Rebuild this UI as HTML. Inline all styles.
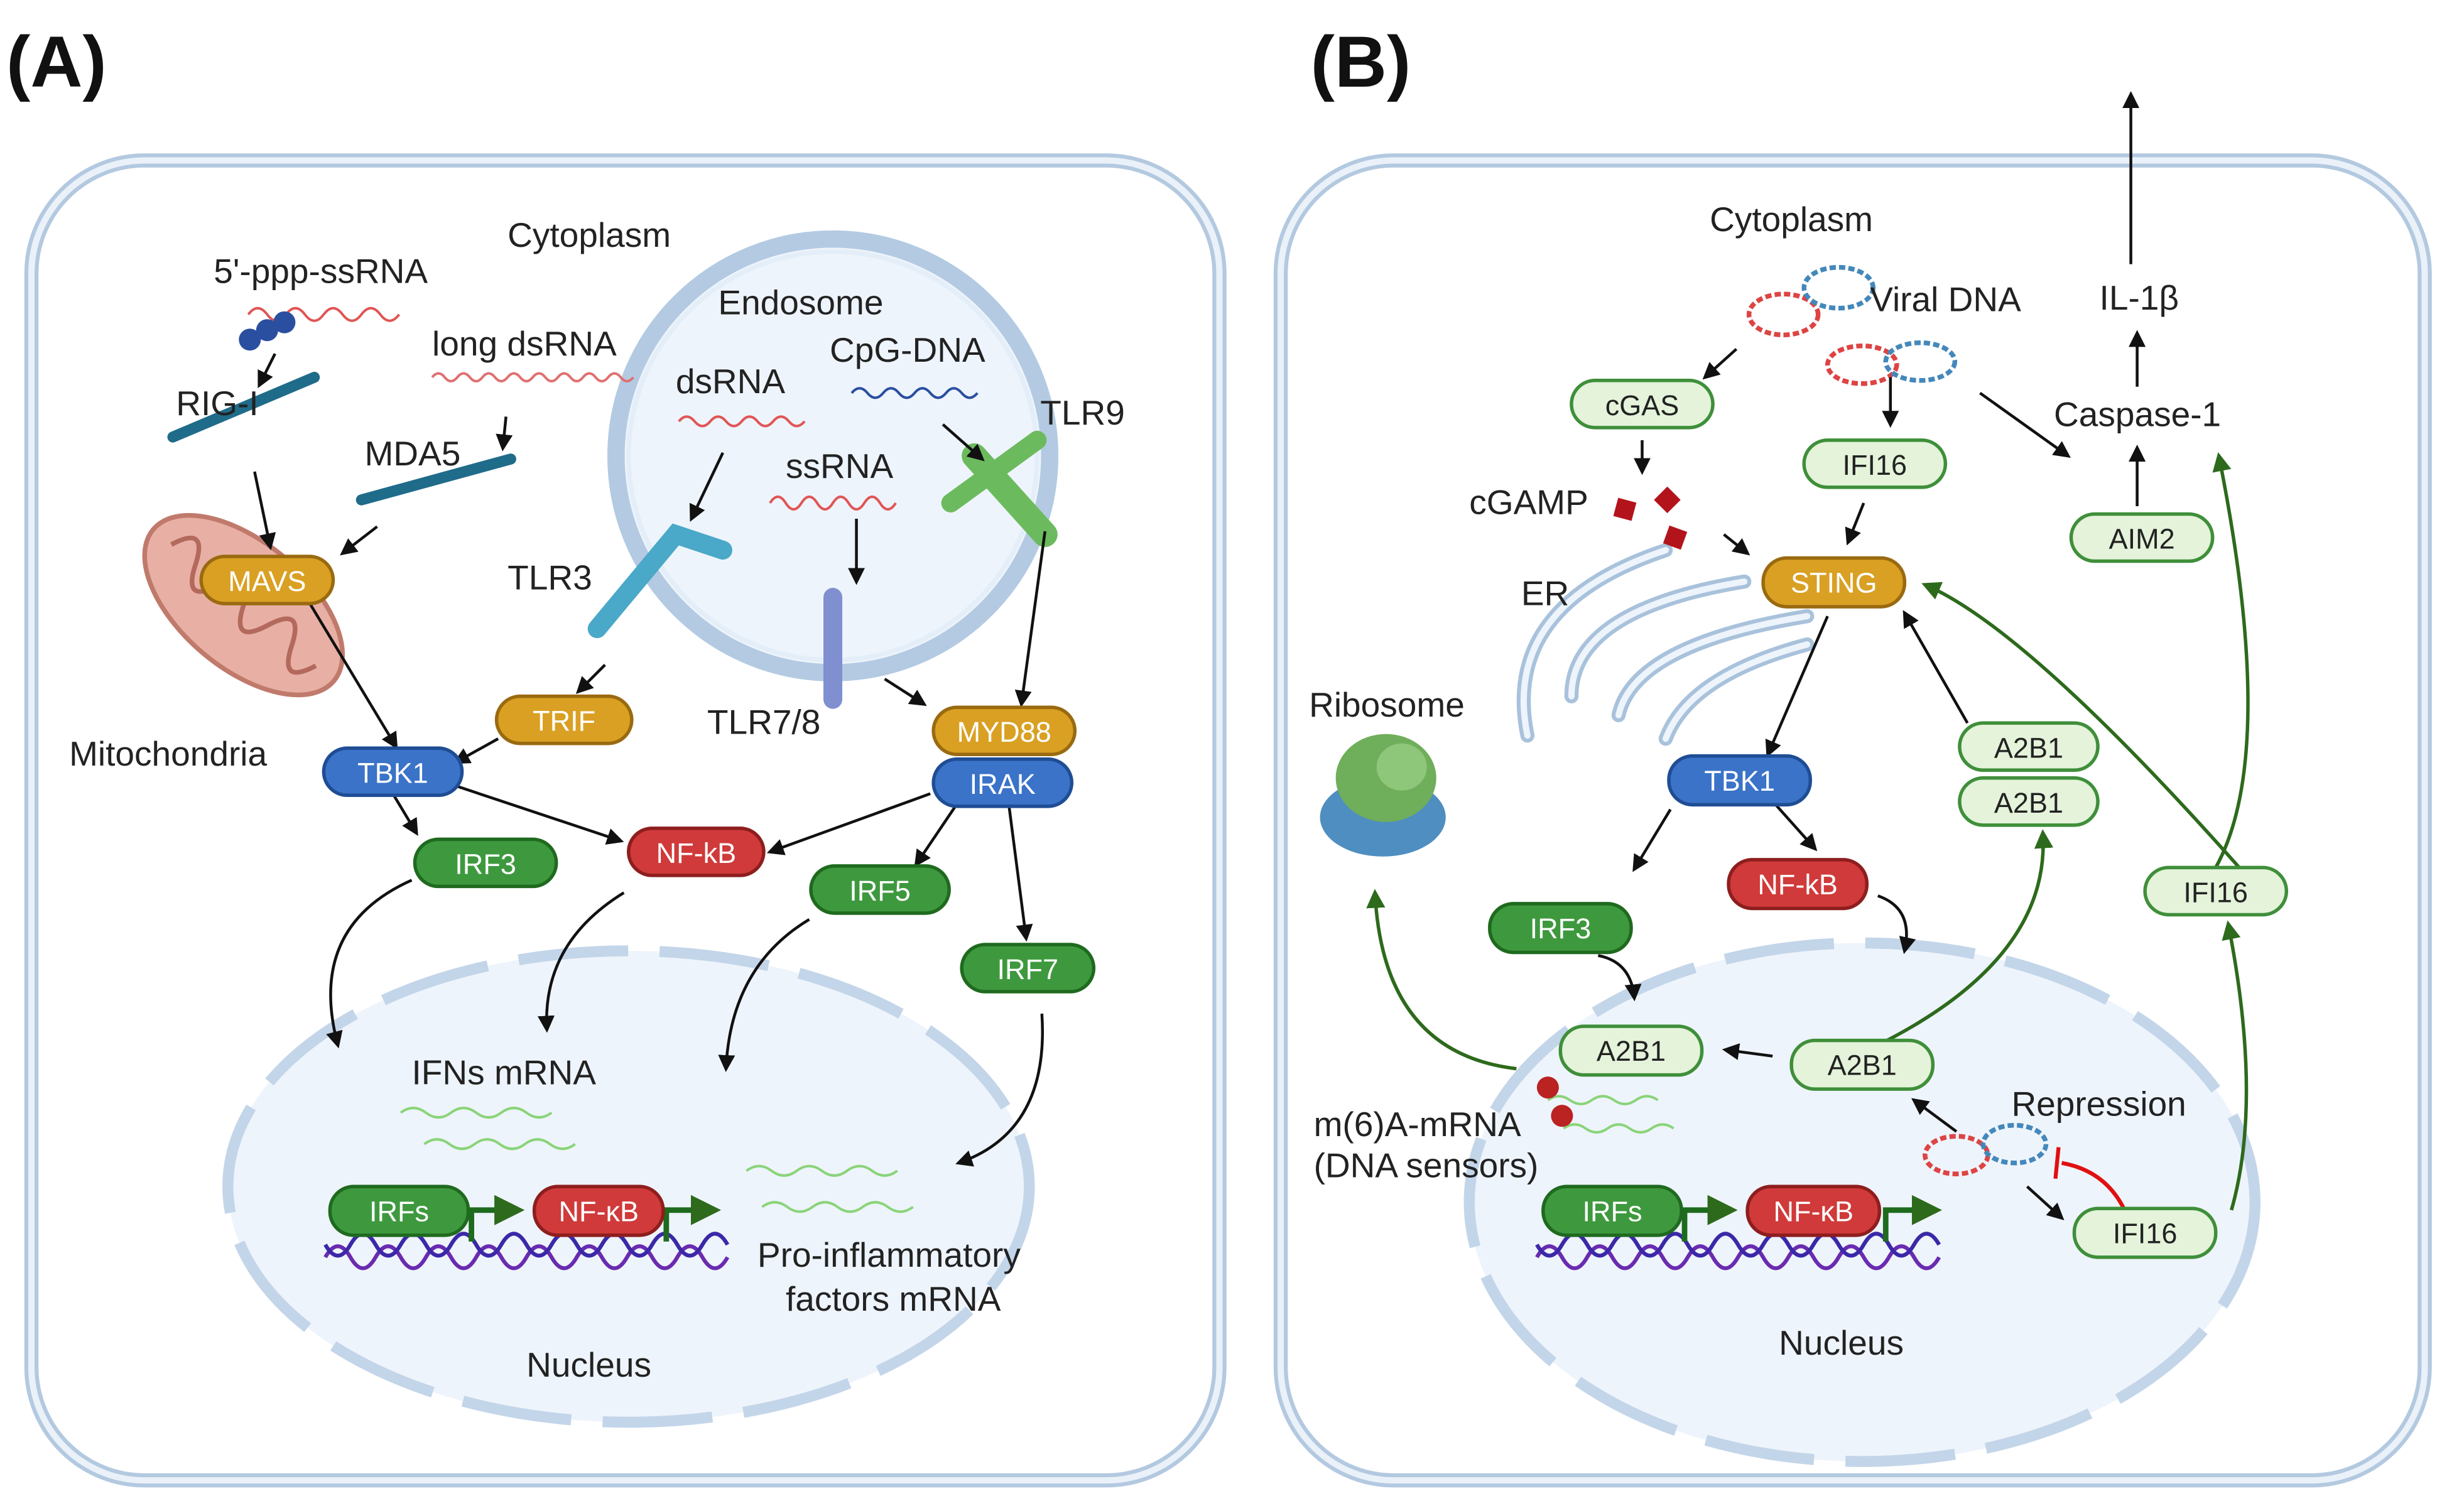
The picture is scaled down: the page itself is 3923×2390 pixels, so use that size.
<!DOCTYPE html>
<html><head><meta charset="utf-8"><style>
html,body{margin:0;padding:0;background:#fff;}
svg{display:block;}
text{font-family:"Liberation Sans",sans-serif;}
</style></head><body>
<svg width="3923" height="2390" viewBox="0 0 1568 955" xmlns="http://www.w3.org/2000/svg">
<defs>
<marker id="ak" viewBox="0 0 10 10" refX="8" refY="5" markerWidth="6" markerHeight="6" orient="auto"><path d="M0,0 L10,5 L0,10 z" fill="#111"/></marker>
<marker id="ag" viewBox="0 0 10 10" refX="8" refY="5" markerWidth="5.5" markerHeight="5.5" orient="auto"><path d="M0,0 L10,5 L0,10 z" fill="#2d6a1c"/></marker>
</defs>
<rect width="1568" height="955" fill="#fff"/>
<text x="4" y="55" font-size="46" font-weight="bold" fill="#111">(A)</text>
<text x="834" y="55" font-size="46" font-weight="bold" fill="#111">(B)</text>

<g fill="none">
<rect x="20" y="102" width="756" height="840" rx="72" stroke="#b3c9e0" stroke-width="9"/>
<rect x="20" y="102" width="756" height="840" rx="72" stroke="#eaf1f9" stroke-width="4"/>
<rect x="815" y="102" width="728" height="840" rx="72" stroke="#b3c9e0" stroke-width="9"/>
<rect x="815" y="102" width="728" height="840" rx="72" stroke="#eaf1f9" stroke-width="4"/>
</g>

<ellipse cx="400" cy="755" rx="255" ry="150" fill="#eef4fb"/>
<ellipse cx="400" cy="755" rx="255" ry="150" fill="none" stroke="#c3d5e9" stroke-width="7" stroke-dasharray="70 20"/>
<ellipse cx="1185" cy="765" rx="250" ry="165" fill="#eef4fb"/>
<ellipse cx="1185" cy="765" rx="250" ry="165" fill="none" stroke="#c3d5e9" stroke-width="7" stroke-dasharray="70 20"/>

<circle cx="530" cy="290" r="138" fill="#eef4fb" stroke="#b3cae2" stroke-width="11"/>
<circle cx="530" cy="290" r="130" fill="none" stroke="#e4eef8" stroke-width="3"/>

<g transform="rotate(40 155 385)">
<ellipse cx="155" cy="385" rx="75" ry="40" fill="#e8b0a4" stroke="#c07a6c" stroke-width="3"/>
<path d="M95,385 q10,-25 20,0 q10,25 20,0 q10,-25 20,0 q10,25 20,0 q10,-25 20,0 q10,25 20,0" fill="none" stroke="#b36a5c" stroke-width="3"/>
</g>

<g fill="none" stroke="#a9c2dc" stroke-width="9" stroke-linecap="round">
<path d="M972,468 Q955,385 1060,350"/>
<path d="M1000,443 Q1000,388 1110,370"/>
<path d="M1030,455 Q1040,410 1150,392"/>
<path d="M1060,470 Q1075,430 1150,410"/>
</g>
<g fill="none" stroke="#eef4fb" stroke-width="4" stroke-linecap="round">
<path d="M972,468 Q955,385 1060,350"/>
<path d="M1000,443 Q1000,388 1110,370"/>
<path d="M1030,455 Q1040,410 1150,392"/>
<path d="M1060,470 Q1075,430 1150,410"/>
</g>

<ellipse cx="880" cy="520" rx="40" ry="25" fill="#4f8ec0"/>
<ellipse cx="882" cy="495" rx="32" ry="28" fill="#6fae5a"/>
<ellipse cx="892" cy="488" rx="16" ry="15" fill="#8fc77a"/>

<g fill="none" stroke-width="1.6">
<path d="M158,200 q6,-8 12,0 q6,8 12,0 q6,-8 12,0 q6,8 12,0 q6,-8 12,0 q6,8 12,0 q6,-8 12,0 q6,8 12,0" stroke="#e05555"/>
<path d="M275,240 q4,-5 8,0 q4,5 8,0 q4,-5 8,0 q4,5 8,0 q4,-5 8,0 q4,5 8,0 q4,-5 8,0 q4,5 8,0 q4,-5 8,0 q4,5 8,0 q4,-5 8,0 q4,5 8,0 q4,-5 8,0 q4,5 8,0 q4,-5 8,0 q4,5 8,0" stroke="#e07070"/>
<path d="M432,268 q5,-6 10,0 q5,6 10,0 q5,-6 10,0 q5,6 10,0 q5,-6 10,0 q5,6 10,0 q5,-6 10,0 q5,6 10,0" stroke="#e05555"/>
<path d="M490,320 q5,-8 10,0 q5,8 10,0 q5,-8 10,0 q5,8 10,0 q5,-8 10,0 q5,8 10,0 q5,-8 10,0 q5,8 10,0" stroke="#e05555"/>
<path d="M542,250 q5,-6 10,0 q5,6 10,0 q5,-6 10,0 q5,6 10,0 q5,-6 10,0 q5,6 10,0 q5,-6 10,0 q5,6 10,0" stroke="#2a4fa0"/>
<path d="M255,708 q8,-6 16,0 q8,6 16,0 q8,-6 16,0 q8,6 16,0 q8,-6 16,0 q8,6 16,0" stroke="#8ad47a"/>
<path d="M270,728 q8,-6 16,0 q8,6 16,0 q8,-6 16,0 q8,6 16,0 q8,-6 16,0 q8,6 16,0" stroke="#8ad47a"/>
<path d="M475,745 q8,-6 16,0 q8,6 16,0 q8,-6 16,0 q8,6 16,0 q8,-6 16,0 q8,6 16,0" stroke="#8ad47a"/>
<path d="M485,768 q8,-6 16,0 q8,6 16,0 q8,-6 16,0 q8,6 16,0 q8,-6 16,0 q8,6 16,0" stroke="#8ad47a"/>
<path d="M985,700 q7,-5 14,0 q7,5 14,0 q7,-5 14,0 q7,5 14,0 q7,-5 14,0" stroke="#8ad47a"/>
<path d="M995,718 q7,-5 14,0 q7,5 14,0 q7,-5 14,0 q7,5 14,0 q7,-5 14,0" stroke="#8ad47a"/>
</g>
<circle cx="159" cy="216" r="7" fill="#2a4fa0"/><circle cx="170" cy="210" r="7" fill="#2a4fa0"/><circle cx="181" cy="205" r="7" fill="#2a4fa0"/>
<circle cx="985" cy="692" r="7" fill="#b22"/><circle cx="994" cy="710" r="7" fill="#b22"/>

<g stroke-linecap="round" fill="none">
<path d="M110,278 L200,240" stroke="#1f6b8a" stroke-width="7"/>
<path d="M230,318 L325,292" stroke="#1f6b8a" stroke-width="7"/>
<path d="M380,400 L430,340 L460,350" stroke="#4aa8c8" stroke-width="12"/>
<path d="M530,380 L530,445" stroke="#7f8fd0" stroke-width="12"/>
<path d="M620,290 L665,340" stroke="#6cba5e" stroke-width="16"/>
<path d="M605,320 L660,280" stroke="#6cba5e" stroke-width="12"/>
</g>
<g fill="none" stroke-width="3" stroke-dasharray="4 2">
<ellipse cx="1135" cy="200" rx="22" ry="13" stroke="#d44"/><ellipse cx="1170" cy="183" rx="22" ry="13" stroke="#48b"/>
<ellipse cx="1185" cy="232" rx="22" ry="12" stroke="#d44"/><ellipse cx="1222" cy="230" rx="22" ry="12" stroke="#48b"/>
<ellipse cx="1245" cy="735" rx="20" ry="12" stroke="#d44"/><ellipse cx="1282" cy="728" rx="20" ry="12" stroke="#48b"/>
</g>
<g fill="#b3141c"><rect x="1028" y="318" width="12" height="12" transform="rotate(15 1034 324)"/><rect x="1055" y="312" width="12" height="12" transform="rotate(45 1061 318)"/><rect x="1060" y="336" width="12" height="12" transform="rotate(20 1066 342)"/></g>

<g fill="none" stroke-width="2.5">
<path d="M207,800 q8,-14 16,0 q8,14 16,0 q8,-14 16,0 q8,14 16,0 q8,-14 16,0 q8,14 16,0 q8,-14 16,0 q8,14 16,0 q8,-14 16,0 q8,14 16,0 q8,-14 16,0 q8,14 16,0 q8,-14 16,0 q8,14 16,0 q8,-14 16,0 q8,14 16,0" stroke="#6a2bb0"/>
<path d="M207,792 q8,14 16,0 q8,-14 16,0 q8,14 16,0 q8,-14 16,0 q8,14 16,0 q8,-14 16,0 q8,14 16,0 q8,-14 16,0 q8,14 16,0 q8,-14 16,0 q8,14 16,0 q8,-14 16,0 q8,14 16,0 q8,-14 16,0 q8,14 16,0 q8,-14 16,0" stroke="#3b28a8"/>
<path d="M978,800 q8,-14 16,0 q8,14 16,0 q8,-14 16,0 q8,14 16,0 q8,-14 16,0 q8,14 16,0 q8,-14 16,0 q8,14 16,0 q8,-14 16,0 q8,14 16,0 q8,-14 16,0 q8,14 16,0 q8,-14 16,0 q8,14 16,0 q8,-14 16,0 q8,14 16,0" stroke="#6a2bb0"/>
<path d="M978,792 q8,14 16,0 q8,-14 16,0 q8,14 16,0 q8,-14 16,0 q8,14 16,0 q8,-14 16,0 q8,14 16,0 q8,-14 16,0 q8,14 16,0 q8,-14 16,0 q8,14 16,0 q8,-14 16,0 q8,14 16,0 q8,-14 16,0 q8,14 16,0 q8,-14 16,0" stroke="#3b28a8"/>
</g>
<g fill="none" stroke="#1e6b1e" stroke-width="3.5" marker-end="url(#ag)">
<path d="M300,790 V770 H330"/><path d="M424,790 V770 H455"/>
<path d="M1072,790 V770 H1102"/><path d="M1200,790 V770 H1232"/>
</g>

<g fill="none" stroke="#111" stroke-width="1.8" marker-end="url(#ak)">
<path d="M175,225 L165,245"/>
<path d="M322,265 L320,285"/>
<path d="M162,300 L172,348"/>
<path d="M240,335 L218,352"/>
<path d="M460,288 L440,330"/>
<path d="M545,330 L545,370"/>
<path d="M600,270 L625,292"/>
<path d="M385,423 L368,440"/>
<path d="M563,432 L588,448"/>
<path d="M665,338 L650,448"/>
<path d="M196,382 L252,475"/>
<path d="M317,470 L290,485"/>
<path d="M250,505 L265,530"/>
<path d="M290,500 L395,535"/>
<path d="M592,505 L490,542"/>
<path d="M610,510 L583,550"/>
<path d="M642,512 L653,597"/>
<path d="M262,560 Q195,590 215,665"/>
<path d="M397,568 Q345,600 348,655"/>
<path d="M515,585 Q465,615 462,680"/>
<path d="M663,645 Q668,720 610,740"/>
<path d="M1105,222 L1085,240"/>
<path d="M1203,240 L1203,270"/>
<path d="M1045,280 L1045,300"/>
<path d="M1186,320 L1176,345"/>
<path d="M1097,340 L1112,352"/>
<path d="M1260,250 L1316,290"/>
<path d="M1360,322 L1360,285"/>
<path d="M1360,246 L1360,212"/>
<path d="M1356,168 L1356,60"/>
<path d="M1163,392 L1125,480"/>
<path d="M1252,460 L1212,390"/>
<path d="M1063,515 L1040,553"/>
<path d="M1130,512 L1155,540"/>
<path d="M1195,570 Q1218,578 1212,605"/>
<path d="M1017,608 Q1038,612 1040,635"/>
<path d="M1128,672 L1098,668"/>
<path d="M1245,720 L1218,700"/>
<path d="M1290,755 L1312,775"/>
</g>
<path d="M1352,770 Q1340,745 1312,740 M1310,730 L1308,750" fill="none" stroke="#e01010" stroke-width="2.5"/>
<g fill="none" stroke="#2d6a1c" stroke-width="2.2" marker-end="url(#ag)">
<path d="M965,680 Q880,670 875,568"/>
<path d="M1195,665 Q1305,610 1300,530"/>
<path d="M1425,552 Q1290,400 1225,372"/>
<path d="M1410,552 Q1450,480 1412,290"/>
<path d="M1420,770 Q1440,700 1418,588"/>
</g>

<g font-size="18" text-anchor="middle" stroke-width="2.2">
<g fill="#d9a023" stroke="#9a6a10"><rect x="128" y="354" width="84" height="30" rx="15"/><rect x="316" y="443" width="86" height="30" rx="15"/><rect x="594" y="450" width="90" height="30" rx="15"/><rect x="1122" y="355" width="90" height="31" rx="15"/></g>
<g fill="#3a73c8" stroke="#1f4d94"><rect x="594" y="483" width="88" height="30" rx="15"/><rect x="206" y="476" width="88" height="30" rx="15"/><rect x="1062" y="481" width="90" height="31" rx="15"/></g>
<g fill="#3e993e" stroke="#1f6a1f"><rect x="264" y="534" width="90" height="30" rx="15"/><rect x="516" y="551" width="88" height="30" rx="15"/><rect x="612" y="601" width="84" height="30" rx="15"/><rect x="210" y="755" width="88" height="31" rx="15"/><rect x="948" y="575" width="90" height="31" rx="15"/><rect x="982" y="755" width="88" height="31" rx="15"/></g>
<g fill="#d03a3a" stroke="#8e1e1e"><rect x="400" y="527" width="86" height="30" rx="15"/><rect x="340" y="755" width="82" height="31" rx="15"/><rect x="1100" y="547" width="88" height="31" rx="15"/><rect x="1112" y="755" width="84" height="31" rx="15"/></g>
<g fill="#e4f3da" stroke="#3f8f3a"><rect x="1000" y="242" width="90" height="30" rx="15"/><rect x="1148" y="280" width="90" height="30" rx="15"/><rect x="1318" y="327" width="90" height="30" rx="15"/><rect x="1247" y="460" width="88" height="30" rx="15"/><rect x="1247" y="495" width="88" height="30" rx="15"/><rect x="1365" y="552" width="90" height="30" rx="15"/><rect x="993" y="653" width="90" height="31" rx="15"/><rect x="1140" y="662" width="90" height="31" rx="15"/><rect x="1320" y="769" width="90" height="31" rx="15"/></g>
<g fill="#fff" stroke="none">
<text x="170" y="376">MAVS</text><text x="359" y="465">TRIF</text><text x="639" y="472">MYD88</text><text x="1167" y="377">STING</text>
<text x="638" y="505">IRAK</text><text x="250" y="498">TBK1</text><text x="1107" y="503">TBK1</text>
<text x="309" y="556">IRF3</text><text x="560" y="573">IRF5</text><text x="654" y="623">IRF7</text><text x="254" y="777">IRFs</text><text x="993" y="597">IRF3</text><text x="1026" y="777">IRFs</text>
<text x="443" y="549">NF-kB</text><text x="381" y="777">NF-κB</text><text x="1144" y="569">NF-kB</text><text x="1154" y="777">NF-κB</text>
</g>
<g fill="#222" stroke="none">
<text x="1045" y="264">cGAS</text><text x="1193" y="302">IFI16</text><text x="1363" y="349">AIM2</text><text x="1291" y="482">A2B1</text><text x="1291" y="517">A2B1</text><text x="1410" y="574">IFI16</text><text x="1038" y="675">A2B1</text><text x="1185" y="684">A2B1</text><text x="1365" y="791">IFI16</text>
</g>
</g>

<g font-size="22" fill="#222">
<text x="323" y="157">Cytoplasm</text>
<text x="136" y="180">5'-ppp-ssRNA</text>
<text x="275" y="226">long dsRNA</text>
<text x="457" y="200">Endosome</text>
<text x="528" y="230">CpG-DNA</text>
<text x="430" y="250">dsRNA</text>
<text x="500" y="304">ssRNA</text>
<text x="112" y="264">RIG-I</text>
<text x="232" y="296">MDA5</text>
<text x="662" y="270">TLR9</text>
<text x="323" y="375">TLR3</text>
<text x="450" y="467">TLR7/8</text>
<text x="44" y="487">Mitochondria</text>
<text x="262" y="690">IFNs mRNA</text>
<text x="482" y="806">Pro-inflammatory</text>
<text x="500" y="834">factors mRNA</text>
<text x="335" y="876">Nucleus</text>
<text x="1088" y="147">Cytoplasm</text>
<text x="1190" y="198">Viral DNA</text>
<text x="1336" y="197">IL-1β</text>
<text x="1307" y="271">Caspase-1</text>
<text x="935" y="327">cGAMP</text>
<text x="968" y="385">ER</text>
<text x="833" y="456">Ribosome</text>
<text x="1280" y="710">Repression</text>
<text x="836" y="723">m(6)A-mRNA</text>
<text x="836" y="749">(DNA sensors)</text>
<text x="1132" y="862">Nucleus</text>
</g>
</svg>
</body></html>
